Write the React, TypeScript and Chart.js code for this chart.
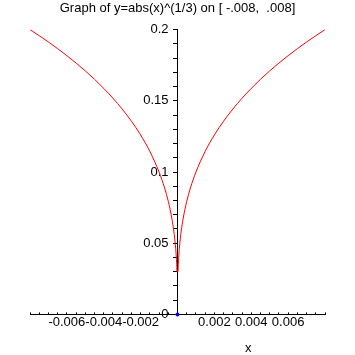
import React, { useEffect, useRef } from "react";
import { Chart, registerables } from "chart.js";

Chart.register(...registerables);

const TITLE = "Graph of y=abs(x)^(1/3) on [ -.008,  .008]";
const X_LABEL = "x";

const xValues = [
  -0.008, -0.0075, -0.007, -0.0065, -0.006, -0.0055, -0.005, -0.0045, -0.004, -0.0035,
  -0.003, -0.0025, -0.002, -0.0015, -0.001, -0.00085, -0.0007, -0.0005, -0.0004, -0.0003,
  -0.0002, -0.00015, -0.0001, -0.00008, -0.00005, -0.000027,
  0.000027, 0.00005, 0.00008, 0.0001, 0.00015, 0.0002, 0.0003, 0.0004, 0.0005, 0.0007,
  0.00085, 0.001, 0.0015, 0.002, 0.0025, 0.003, 0.0035, 0.004, 0.0045, 0.005,
  0.0055, 0.006, 0.0065, 0.007, 0.0075, 0.008,
];
const yValues = [
  0.2, 0.1957, 0.1913, 0.1866, 0.1817, 0.1765, 0.171, 0.1651, 0.1587, 0.1518,
  0.1442, 0.1357, 0.126, 0.1145, 0.1, 0.0947, 0.0888, 0.0794, 0.0737, 0.0669,
  0.0585, 0.0531, 0.0464, 0.0431, 0.0368, 0.03,
  0.03, 0.0368, 0.0431, 0.0464, 0.0531, 0.0585, 0.0669, 0.0737, 0.0794, 0.0888,
  0.0947, 0.1, 0.1145, 0.126, 0.1357, 0.1442, 0.1518, 0.1587, 0.1651, 0.171,
  0.1765, 0.1817, 0.1866, 0.1913, 0.1957, 0.2,
];
const originPointX = [0];
const originPointY = [0];

const X_MIN = -0.008;
const X_MAX = 0.008;
const X_MINOR_STEP = 0.0005;
const X_LABELED_STEPS = [-12, -8, -4, 4, 8, 12];
const Y_MIN = 0;
const Y_MAX = 0.2;
const Y_MINOR_STEP = 0.01;

const FONT = "'Liberation Sans', Arial, sans-serif";

export default function App() {
  const ref = useRef<HTMLCanvasElement>(null);
  useEffect(() => {
    if (!ref.current) return;
    const xLabelPlugin = {
      id: "xLabel",
      afterDraw(chart: any) {
        const { ctx, chartArea } = chart;
        ctx.save();
        ctx.fillStyle = "#000";
        ctx.font = `13px ${FONT}`;
        ctx.textAlign = "center";
        ctx.textBaseline = "middle";
        ctx.fillText(X_LABEL, chartArea.left + (chartArea.right - chartArea.left) * 0.74, 348);
        ctx.restore();
      },
    };
    const chart = new Chart(ref.current, {
      type: "line",
      data: {
        datasets: [
          {
            data: xValues.map((x, i) => ({ x, y: yValues[i] })),
            borderColor: "#ff0000",
            borderWidth: 1,
            pointRadius: 0,
            cubicInterpolationMode: "monotone",
            fill: false,
          },
          {
            data: originPointX.map((x, i) => ({ x, y: originPointY[i] })),
            borderColor: "#0000ff",
            backgroundColor: "#0000ff",
            pointRadius: 2,
            pointBorderWidth: 0,
            showLine: false,
            clip: false,
          },
        ],
      },
      options: {
        animation: false,
        responsive: false,
        layout: { padding: { left: 30, right: 30, top: 0, bottom: 23 } },
        plugins: {
          legend: { display: false },
          tooltip: { enabled: false },
          title: {
            display: true,
            text: TITLE,
            color: "#000",
            font: { family: FONT, size: 13, weight: "normal" },
            padding: { top: 1, bottom: 13 },
          },
        },
        scales: {
          x: {
            type: "linear",
            position: "bottom",
            min: X_MIN,
            max: X_MAX,
            grid: { drawOnChartArea: false, drawTicks: true, tickLength: -2, color: "#000" },
            border: { display: true, color: "#000", width: 1 },
            ticks: {
              stepSize: X_MINOR_STEP,
              autoSkip: false,
              maxRotation: 0,
              minRotation: 0,
              padding: 2,
              color: "#000",
              font: { family: FONT, size: 13 },
              callback: (v: any) => {
                const k = Math.round(Number(v) / X_MINOR_STEP);
                return X_LABELED_STEPS.includes(k) ? (k * X_MINOR_STEP).toFixed(3) : "";
              },
            },
          },
          y: {
            type: "linear",
            position: "center",
            min: Y_MIN,
            max: Y_MAX,
            grid: { drawOnChartArea: false, drawTicks: true, tickLength: 4, color: "#000" },
            border: { display: true, color: "#000", width: 1 },
            ticks: {
              stepSize: Y_MINOR_STEP,
              autoSkip: false,
              padding: 5,
              color: "#000",
              font: { family: FONT, size: 13 },
              callback: (v: any) => {
                const k = Math.round(Number(v) / Y_MINOR_STEP);
                return k % 5 === 0 ? String(Number((k * Y_MINOR_STEP).toFixed(2))) : "";
              },
            },
          },
        },
      },
      plugins: [xLabelPlugin],
    });
    return () => chart.destroy();
  }, []);
  return (
    <canvas
      ref={ref}
      width={355}
      height={355}
      style={{ position: "fixed", left: 0, top: 0, width: 355, height: 355, background: "#fff" }}
    />
  );
}
